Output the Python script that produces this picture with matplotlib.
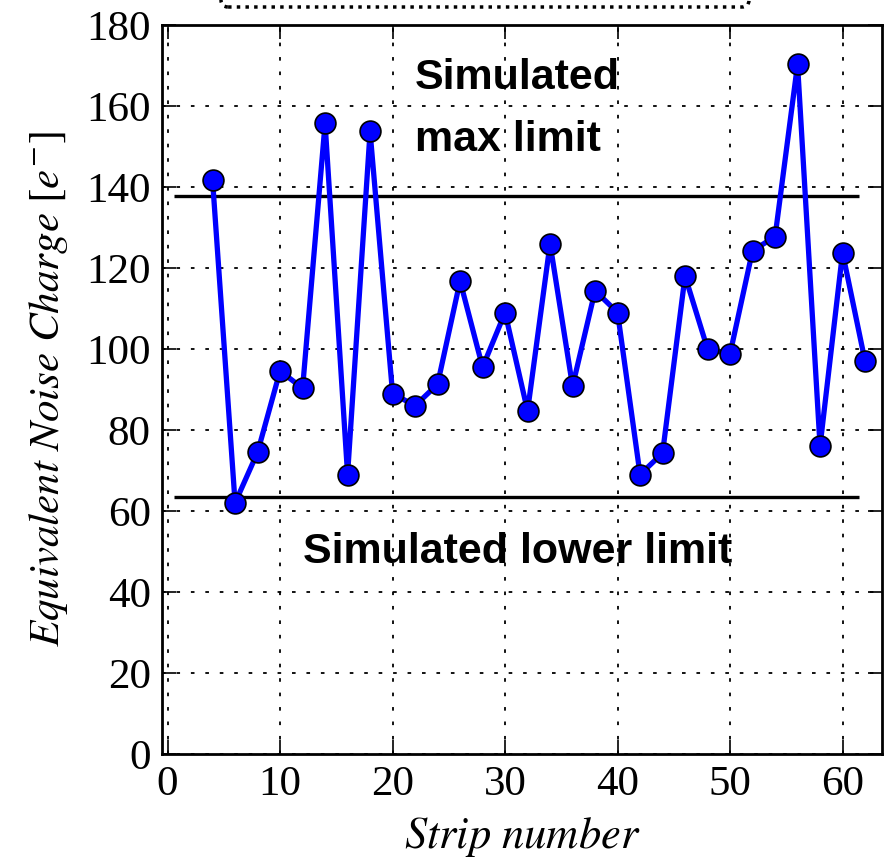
import matplotlib.pyplot as plt
from matplotlib.patches import FancyBboxPatch

# strip numbers and measured ENC values
strips = [4, 6, 8, 10, 12, 14, 16, 18, 20, 22, 24, 26, 28, 30, 32,
          34, 36, 38, 40, 42, 44, 46, 48, 50, 52, 54, 56, 58, 60, 62]
enc = [141.6, 62.0, 74.5, 94.6, 90.3, 155.7, 69.0, 153.7, 89.0, 86.0,
       91.3, 116.8, 95.5, 109.0, 84.7, 126.0, 90.8, 114.4, 109.0, 69.0,
       74.3, 118.0, 100.0, 98.8, 124.3, 127.7, 170.3, 76.0, 123.8, 97.0]

sim_max = 137.8
sim_low = 63.5
xticks = [0, 10, 20, 30, 40, 50, 60]
yticks = [0, 20, 40, 60, 80, 100, 120, 140, 160, 180]

plt.rcParams['mathtext.fontset'] = 'stix'
plt.rcParams['font.family'] = ['Liberation Serif', 'DejaVu Serif']

fig = plt.figure(figsize=(8.86, 8.64), dpi=100)
ax = fig.add_axes([0.1828, 0.1273, 0.8126, 0.8438])

ax.hlines([sim_max, sim_low], 0.6, 61.5, color="black", linewidth=2.4, zorder=2)

ax.plot(strips, enc, color="blue", linewidth=3.8, marker="o",
        markersize=15, markerfacecolor="blue", markeredgecolor="black",
        markeredgewidth=1.2, zorder=3)

ax.set_xlim(-0.5, 63.5)
ax.set_ylim(0, 180)
ax.set_xticks(xticks)
ax.set_yticks(yticks)
ax.tick_params(direction="in", length=10, width=1.2, top=True, right=True,
               labelsize=31, pad=8)
for s in ax.spines.values():
    s.set_linewidth(2)

ax.grid(True, color="black", linestyle=(0, (2, 6)), linewidth=1.3)

ax.set_xlabel(r"$Strip\ number$", fontsize=32, labelpad=8)
ax.set_ylabel(r"$Equivalent\ Noise\ Charge\ [e^{-}]$", fontsize=31, labelpad=12)

ax.text(22, 167, "Simulated", fontsize=31, fontweight="bold",
        family="Liberation Sans", ha="left", va="center")
ax.text(22, 151.6, "max limit", fontsize=31, fontweight="bold",
        family="Liberation Sans", ha="left", va="center")
ax.text(12, 49.9, "Simulated lower limit", fontsize=31, fontweight="bold",
        family="Liberation Sans", ha="left", va="center")

# cut-off legend box at the top
box = FancyBboxPatch((221 / 886, (864 - 7) / 864), (749 - 221) / 886, 0.1,
                     boxstyle="round,pad=0,rounding_size=0.008",
                     transform=fig.transFigure, fill=False,
                     edgecolor="black", linestyle=(0, (1, 1.5)), linewidth=2.5)
fig.patches.append(box)

plt.savefig("out.png", dpi=100)
